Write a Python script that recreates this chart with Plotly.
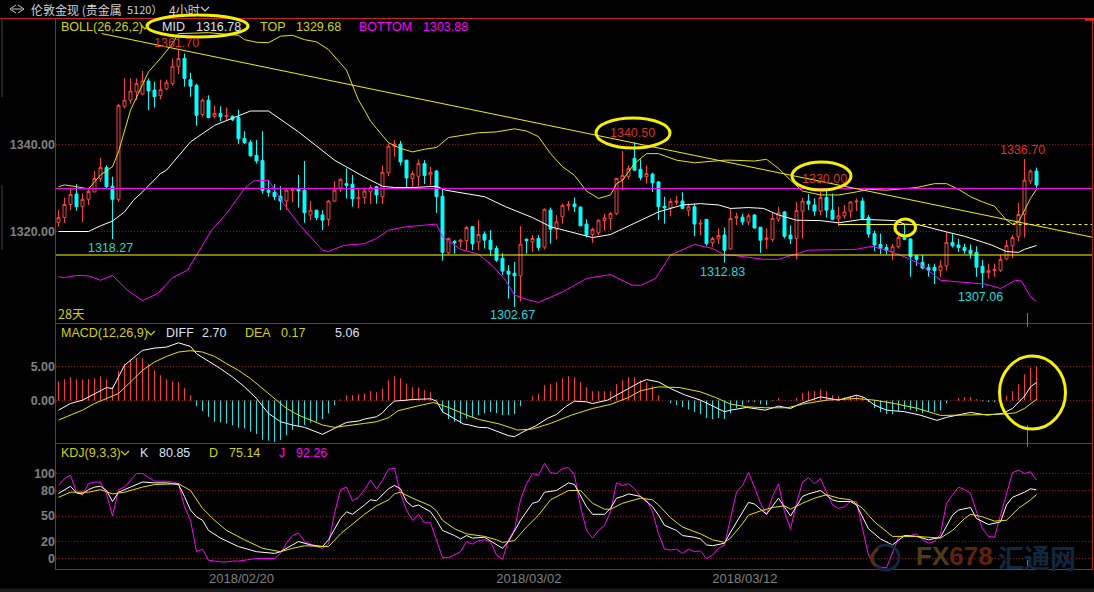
import plotly.graph_objects as go

# ---- candle data (price) ----
OPEN = [1322.1,1323.2,1326.2,1328.6,1325.7,1327.4,1329.1,1332.2,1334.7,1330.4,
1327.4,1348.8,1350.2,1352.1,1351.6,1354.6,1352.5,1351.2,1352.8,1354.0,
1357.9,1359.8,1354.9,1353.6,1346.9,1350.2,1346.4,1347.1,1346.4,1346.5,
1346.2,1341.4,1340.5,1337.5,1336.3,1329.5,1329.0,1328.1,1327.0,1329.4,
1329.7,1329.5,1323.8,1324.9,1323.8,1322.8,1327.0,1330.0,1331.0,1330.9,
1327.5,1327.8,1329.1,1330.3,1328.0,1333.5,1339.5,1340.1,1336.4,1332.2,
1332.7,1335.6,1333.0,1333.9,1328.1,1315.1,1317.7,1317.6,1317.9,1321.1,
1317.6,1319.4,1318.0,1316.1,1313.8,1310.9,1310.4,1309.8,1318.2,1317.6,
1318.4,1316.4,1324.9,1320.5,1323.4,1325.9,1326.3,1325.6,1321.7,1319.3,
1319.7,1322.5,1323.0,1324.1,1332.0,1332.7,1336.8,1334.3,1332.6,1333.2,
1331.4,1325.8,1325.4,1326.7,1327.0,1324.9,1325.7,1321.7,1322.8,1317.4,
1318.3,1319.2,1316.0,1323.1,1323.3,1322.2,1323.8,1321.0,1318.2,1318.2,
1322.8,1324.5,1319.2,1318.4,1324.7,1327.0,1326.1,1324.7,1327.8,1324.9,
1322.9,1323.6,1324.7,1326.8,1327.0,1323.2,1319.5,1317.0,1316.3,1315.3,
1316.5,1318.6,1318.3,1314.4,1312.9,1311.7,1311.7,1311.0,1312.1,1317.5,
1316.9,1316.3,1315.7,1315.2,1312.0,1310.5,1311.0,1311.1,1313.7,1316.7,
1318.8,1323.9,1331.6,1333.9]
HIGH = [1324.9,1327.8,1329.9,1330.9,1328.7,1329.7,1333.9,1337.0,1335.2,1332.6,
1349.3,1355.2,1355.2,1355.2,1356.9,1355.2,1354.4,1354.9,1354.9,1359.8,
1361.7,1360.9,1356.5,1354.0,1350.6,1351.3,1349.0,1348.8,1348.5,1346.7,
1348.0,1343.1,1341.0,1341.0,1343.1,1331.8,1330.9,1330.4,1329.9,1330.1,
1333.0,1336.2,1327.0,1325.0,1324.9,1327.2,1331.6,1332.2,1334.5,1333.0,
1329.7,1329.9,1330.7,1330.5,1335.2,1340.1,1341.0,1340.8,1336.4,1333.9,
1336.6,1336.4,1334.9,1334.1,1329.7,1318.6,1318.0,1318.3,1321.3,1321.2,
1322.6,1320.0,1320.3,1316.7,1315.0,1312.3,1313.0,1321.2,1318.4,1319.2,
1319.2,1325.3,1325.5,1323.8,1326.4,1327.0,1327.8,1325.8,1322.8,1320.9,
1322.8,1324.1,1324.5,1332.4,1338.5,1335.2,1340.5,1336.6,1335.2,1333.5,
1331.6,1328.0,1327.6,1328.2,1329.0,1326.4,1326.4,1322.8,1322.8,1318.8,
1320.7,1320.9,1325.3,1324.3,1324.1,1324.1,1324.0,1321.0,1320.7,1324.3,
1325.7,1324.7,1321.4,1326.8,1327.7,1328.6,1327.6,1329.1,1330.0,1328.7,
1325.7,1326.1,1327.0,1327.6,1327.8,1323.8,1320.2,1319.5,1317.1,1317.1,
1319.2,1321.7,1318.4,1314.6,1314.6,1312.6,1312.6,1313.4,1319.9,1319.4,
1318.3,1317.2,1317.0,1316.6,1313.5,1312.6,1312.6,1314.6,1318.0,1319.2,
1326.6,1336.7,1334.3,1334.7]
LOW = [1321.1,1322.0,1324.9,1324.8,1322.2,1326.1,1329.0,1331.4,1330.0,1318.27,
1326.8,1348.3,1349.4,1350.2,1351.3,1347.9,1348.5,1350.4,1352.5,1353.5,
1356.2,1353.3,1351.0,1344.3,1346.4,1346.0,1346.0,1345.4,1345.4,1345.4,
1340.1,1340.1,1337.2,1335.6,1328.7,1328.0,1327.2,1324.9,1325.0,1326.7,
1325.5,1322.0,1322.6,1322.6,1320.3,1321.3,1326.8,1329.1,1327.6,1325.7,
1325.3,1326.3,1326.3,1326.4,1326.3,1332.7,1337.2,1335.2,1329.7,1329.9,
1330.4,1330.9,1330.7,1324.3,1313.3,1314.8,1314.9,1316.3,1315.7,1315.7,
1315.7,1316.1,1314.4,1313.0,1310.0,1304.6,1302.67,1304.0,1314.9,1315.3,
1315.6,1315.9,1317.2,1318.2,1321.8,1324.8,1324.5,1321.3,1318.6,1317.4,
1319.2,1320.2,1320.3,1323.8,1329.5,1332.0,1334.0,1331.8,1331.0,1329.1,
1322.6,1321.8,1323.5,1326.1,1325.3,1323.5,1318.9,1319.2,1316.7,1316.5,
1317.2,1312.83,1315.8,1321.5,1321.5,1321.5,1320.7,1315.1,1316.0,1317.6,
1322.2,1318.4,1317.1,1313.6,1318.4,1324.9,1323.6,1323.8,1323.2,1322.6,
1321.2,1323.0,1323.2,1324.7,1322.6,1318.6,1315.5,1314.8,1314.8,1313.4,
1316.1,1318.0,1309.6,1312.1,1311.3,1309.6,1307.9,1309.6,1311.0,1316.3,
1315.3,1314.9,1313.8,1309.6,1307.06,1309.2,1309.6,1310.7,1313.4,1313.9,
1317.8,1318.6,1330.9,1330.0]
CLOSE = [1323.2,1326.2,1328.5,1325.7,1327.4,1329.2,1332.2,1334.7,1330.3,1327.4,
1349.0,1350.2,1352.3,1354.0,1354.6,1352.3,1351.0,1352.6,1354.3,1358.0,
1359.8,1355.2,1353.4,1346.7,1350.2,1346.2,1347.1,1346.4,1346.7,1345.7,
1341.3,1340.4,1337.4,1336.2,1329.4,1329.0,1328.0,1327.0,1329.5,1329.9,
1329.3,1324.3,1324.9,1323.2,1322.6,1327.0,1329.5,1332.0,1330.6,1327.5,
1327.8,1329.3,1330.1,1328.4,1333.6,1339.6,1340.1,1336.0,1332.3,1333.3,
1335.6,1332.9,1333.6,1328.0,1315.2,1318.4,1317.4,1318.0,1320.9,1317.2,
1319.3,1318.0,1315.9,1313.4,1310.9,1310.2,1309.8,1317.1,1317.9,1318.4,
1316.3,1325.1,1320.5,1322.2,1326.0,1326.2,1325.7,1321.3,1319.2,1320.5,
1322.6,1323.1,1324.1,1332.2,1332.9,1334.5,1334.1,1332.4,1333.3,1331.2,
1325.7,1325.4,1326.9,1327.0,1325.3,1325.7,1321.7,1321.9,1317.2,1318.4,
1319.1,1315.7,1323.0,1323.4,1322.2,1323.6,1320.8,1318.0,1318.5,1323.0,
1324.3,1318.9,1318.3,1324.8,1327.0,1326.3,1324.7,1327.8,1324.9,1322.8,
1323.6,1324.5,1326.8,1327.0,1323.0,1319.4,1316.9,1316.1,1315.6,1316.5,
1318.6,1318.2,1314.2,1313.6,1311.6,1311.1,1311.0,1312.1,1317.5,1316.7,
1316.3,1315.6,1314.9,1311.8,1310.5,1311.0,1311.3,1313.6,1316.8,1318.6,
1323.9,1331.8,1333.9,1330.7]

# ---- Bollinger bands, read at the bar numbers given ----
TOP_X = [0,1,3,5,6,7,9,10,12,14,15,17,19,20,25,30,31,33,35,37,39,41,43,45,47,48,49,50,51,
52,53,55,57,59,61,63,65,67,70,73,76,78,80,82,84,86,88,90,92,93,94,96,98,100,103,106,109,111,
112,116,118,120,122,124,127,130,133,135,138,141,143,146,148,150,152,154,156,158,159,160,161,162,163]
TOP_Y = [1330.3,1330.7,1330.3,1329.8,1331.4,1333,1334.9,1338.3,1347.9,1354,1356.7,1359.8,1363.2,1365.5,1365.7,1365.1,1364.1,1363.5,1363.4,1364.9,1365.1,1364.1,1363.6,1361.8,1358.6,1357.1,1353.6,1350.2,1347.9,
1345.4,1343.7,1340.4,1339.1,1338.3,1338.9,1339.3,1341.6,1342.1,1342.7,1342.9,1343.6,1343.1,1341.8,1337.9,1334.9,1332.9,1329.3,1327.6,1328.4,1331,1331.8,1335.6,1337.9,1337.9,1336.4,1335.8,1336.2,1336.4,
1336.4,1336.2,1336.6,1334.5,1331.8,1329.3,1328.4,1328.4,1329.1,1329.7,1329.5,1329.9,1330.1,1331,1331,1329.7,1328,1326.8,1325.8,1322.6,1321.7,1322.2,1324.9,1327.6,1329.68]
MID_X = [0,3,5,7,9,11,12.5,14,17,18,22,26,30,32,35,40,46,51,54,56,59,63,64.5,69.5,71,74.5,79,82,85.5,89,92,95.5,100,104,107,110,112,
115,117.5,120,123,127,130,134,139.5,141,143.5,148,151,155.5,158,160,161,163]
MID_Y = [1320,1320,1320,1321.3,1322.4,1324.5,1327.2,1329.1,1333.3,1334.1,1340.6,1344.4,1346.7,1347.7,1347.7,1342.9,1336.4,1332.5,1330.4,1330.1,1330.1,1330.4,1329.5,1328.4,1328,1325.7,1323.2,1321.1,1319.9,1318.6,1319.3,1321.5,1324.5,1326.1,1326.4,1326.1,1325.3,
1325.5,1325.3,1323.8,1322.6,1322.5,1322,1322.8,1322.5,1321.7,1321.5,1319.9,1318.9,1316.9,1315.4,1315.2,1315.9,1316.78]
BOT_X = [0,1,3,5,7,9,11.5,14,16.5,19,21.5,23.5,25.5,28,31,32.5,35,37.5,40,44,45,47.5,51,53,55,58,62,63,64,67,70,72.5,74.5,76,78,80,84,88,92,95.5,97,99.5,102,106,109,111,112,
117.5,120,122.5,125,133,135.5,138,141,143.5,147,151,154.5,157,159.5,160.5,162,163]
BOT_Y = [1309.6,1309.4,1309.9,1309.8,1308.8,1309.9,1306.5,1304.1,1305.7,1309.4,1311.1,1315.7,1320.3,1324.1,1329.9,1331.6,1331.8,1326.4,1321.8,1315.7,1315.4,1316.8,1317.2,1318.4,1320.3,1321.1,1321.6,1321.7,1318.8,1315.9,1314.8,1311.9,1308.8,1305.4,1304.4,1303.7,1306.1,1309.2,1310.1,1307.7,1307.6,1309.2,1314.6,1317,1316.1,1314.6,1314.6,
1313.6,1313.6,1314.6,1315.7,1315.9,1316.6,1315.7,1314.2,1312.6,1308.8,1308.3,1307.9,1306.9,1308.8,1308.6,1305,1303.88]

# ---- user-drawn lines on the price pane ----
LEVEL_MAGENTA = 1329.9
LEVEL_YELLOW = 1314.6
LEVEL_DASH = 1321.6
LEVEL_DASH_BARS = [130, 143]
TREND_BARS = [7.2, 172.25]
TREND_PRICES = [1365.5, 1318.7]

# ---- MACD ----
MACD_HIST = [2.87,3.17,3.47,3.17,3.12,3.17,3.32,3.61,3.17,2.03,4.36,5.5,6.09,6.39,6.29,5.5,4.5,3.76,3.12,2.87,2.72,1.83,0.79,
-0.84,-1.58,-2.43,-3.17,-3.27,-3.42,-3.71,-4.06,-4.16,-4.65,-5,-5.89,-5.99,-6.19,-5.89,-5.15,-4.41,-3.81,-3.66,-3.32,-3.17,-2.77,-1.93,-0.69,
0.15,0.79,0.79,0.94,1.04,1.39,1.24,1.78,3.02,3.61,3.32,2.52,1.98,1.93,1.54,1.24,0.2,
-1.78,-2.77,-3.17,-3.42,-2.72,-2.43,-2.18,-1.93,-1.73,-1.88,-2.18,-2.18,-2.03,-0.84,0,
0.64,0.94,2.28,2.43,2.72,3.32,3.61,3.47,2.72,1.98,1.39,1.39,1.39,1.39,2.43,3.02,3.47,3.47,3.02,2.72,2.13,0.79,0,
-0.4,-0.69,-0.99,-1.34,-1.73,-2.03,-2.62,-2.77,-2.62,-2.77,-1.88,-1.14,-0.74,-0.25,-0.25,-0.54,-0.69,-0.1,0.35,0.05,-0.05,0.35,1.09,1.39,1.39,1.68,1.39,0.79,0.64,0.5,0.64,0.79,0.5,
-0.25,-1.14,-1.73,-2.03,-2.03,-1.58,-1.29,-1.44,-1.58,-1.88,-1.73,-1.73,-1.49,-0.4,0,0.35,0.5,0.5,0.2,-0.15,-0.25,-0.25,0,0.64,1.39,2.43,3.91,4.95,5.06]
DIFF_X = [0,2,4,6,8,9,10,11,13,14,16,18,20,22,23,25,27,29,31,33,35,37,39,41,43,44,46,48,50,51,53,54,55,56,58,59,62,63,64,66,67.5,68.5,70,71.5,73,75,76,77.5,79.5,81.5,83,84.5,86,88,89,91.5,94,97,98,100,102,104.5,107,109,111,112,
114.7,117.8,120,122,123.7,127,130,133,134.3,136,138,141,143.6,146.4,148,152,154.8,157.3,159,161,162,163]
DIFF_Y = [-1.44,-0.45,0.05,1.04,1.93,1.78,3.51,5.25,6.73,7.48,7.82,7.97,8.61,8.07,6.98,5.89,4.75,3.51,2.03,0.3,-1.93,-3.17,-3.66,-4.01,-4.65,-5.05,-4.16,-3.27,-3.07,-2.77,-2.43,-1.83,-0.84,-0.1,0.05,0.15,0.25,-0.1,-1.68,-2.67,-3.51,-3.66,-4.01,-4.06,-4.55,-5.25,-5.4,-4.65,-3.81,-2.67,-2.08,-0.94,-0.1,-0.2,-0.45,0.05,1.29,2.77,3.12,2.77,1.78,0.79,0.05,-0.84,-1.68,-1.44,
-1.04,-1.44,-0.84,-1.19,-0.45,0.54,0.05,0.79,0.45,-0.69,-1.44,-1.68,-2.18,-2.97,-2.52,-1.78,-2.18,-1.93,-1.19,0.64,2.03,2.70]
DEA_X = [0,2,4,6,8,10,12,14,16,18,20,22,24,26,28,30,32,34,36,38,40,42,44,46,48,50,51,53,55,56.6,58,60,62.5,65,68,70,73.5,76.5,79,82,85.5,89,92,95,97,100,103.5,107,109.5,112,
114.7,117.8,121.5,124,128,133,136,139.3,143.2,147,150.6,154.5,157.8,159.5,161,163]
DEA_Y = [-2.92,-2.18,-1.44,-0.45,0.3,1.04,2.77,4.5,5.74,6.58,7.23,7.43,7.23,6.58,5.5,4.5,3.27,1.78,0.3,-1.19,-2.18,-2.92,-3.66,-4.01,-3.81,-3.51,-3.42,-3.17,-2.57,-1.53,-1.19,-0.79,-0.3,-1.04,-2.18,-2.82,-3.51,-4.41,-4.26,-3.42,-2.18,-1.19,-0.59,0.45,1.44,2.03,1.93,1.29,0.45,-0.54,
-0.94,-1.09,-1.09,-0.54,0.05,0.3,0.05,-0.45,-1.19,-2.23,-2.18,-2.13,-2.03,-1.83,-1.19,0.17]

# ---- KDJ ----
K_X = [0,1,2,3,4,5,6,7,8,9,10,12,14,16,18,20,21,22,23,24,25,27,30,33,36,37,39,40,42,44,45,47,48,49,51,52,53,54,55,56,57,58,59,60,62,63,64,66,67,68,69,71,73,74,75,77,79,80,81,83,85,86,88,89,91,92,93,94,95,97,99,100,101,103,104,106,107,108,109,111,112,
114,115,116,118,120,122,124,125,127,129,130,132,133,135,137,139,141,143,145,147,149,150,152,153,155,157,158,159,161,162,163]
K_Y = [76.5,81,85,77,76,81,84,85,80,67,78,84,90,89,89,87,73,57,49,45,33,24,14,8,6,8,16,20,16,14,22,47,55,52,63,69,68,75,82,86,82,67,61,63,55,45,33,27,23,27,24,25,16,12,20,45,65,67,78,80,89,87,61,52,52,59,71,73,76,73,61,51,39,33,27,25,23,16,15,18,31,
55,66,64,52,71,50,73,76,80,69,67,67,63,35,23,16,27,26,22,25,51,57,60,47,40,43,63,72,78,82,80.85]
D_X = [0,2,3,5,7,9,11,14,16,20,22,24,26,28,31,34,37,39,41,45,47,49,51,53,55,56,57,59,61,62,63,64,66,68,71,73,74,76,78,80,82,85,87,89,91,92,94,97,99,100,102,104,107,109,111,112,
114,115,117,119,121,122,124,126,128,130,132,134,136,138,139,143,147,149,151,152,154,156,158,160,162,163]
D_Y = [72,78,78,78,81,76,78,84,87,88,80,59,45,33,22,12,8,12,15,14,29,41,52,62,69,76,78,71,65,62,56,45,35,29,26,22,19,21,37,51,69,80,80,65,58,58,65,71,69,63,48,37,29,22,19,24,
41,51,56,60,62,58,65,71,75,71,69,59,43,31,26,26,24,33,47,52,49,44,45,59,69,75.14]
J_X = list(range(164))
J_Y = [86,94,98,78,75,88,90,90,76,50,81,84,92,100,100,96,91,91,91,90,88,61,45,8,11,-2,-3,-4,-4,-3,-3,-2,-1,0,0,0,0,6,18,27,30,20,17,14,12,17,53,81,84,68,72,81,
92,82,92,105,106,76,57,45,52,42,42,22,1,1,5,8,20,17,21,22,20,4,-1,22,34,69,88,100,98,112,101,100,106,107,98,61,33,24,33,39,55,89,86,88,82,73,69,55,29,11,10,11,6,11,8,9,0,4,12,16,
47,78,86,101,84,65,52,73,88,55,35,65,90,95,88,94,78,63,59,61,67,67,35,4,-6,-10,-11,6,25,27,27,29,22,18,20,29,65,75,84,81,77,55,35,26,25,51,76,101,104,100,102,92.26]

TICK_BARS = [30.5, 78.4, 114.4]
TICK_DATES = ["2018/02/20", "2018/03/02", "2018/03/12"]
PRICE_TICKS = [1340, 1320]
PRICE_LABELS = ["1340.00", "1320.00"]
MACD_TICKS = [5, 0]
MACD_LABELS = ["5.00", "0.00"]
KDJ_TICKS = [100, 80, 50, 20, 0]
KDJ_LABELS = ["100", "80", "50", "20", "0"]

BARS = list(range(len(OPEN)))
X_START, X_END = -0.4167, 172.25

# ---- pixel helpers for overlay furniture (plot area is on whole pixels) ----
L, R, T, B = 56, 1092, 19, 569
def X(px): return (px - L) / (R - L)
def Y(py): return (B - py) / (B - T)

FONT = "Liberation Sans"
OLIVE = "#d4d400"
LIGHT = "#d8e4f0"
RED_TXT = "#dc3028"
CYAN_TXT = "#19dcdc"
MAG = "#ff00ff"
BORDER = "#a82313"

fig = go.Figure()
fig.add_trace(go.Candlestick(
    x=BARS, open=OPEN, high=HIGH, low=LOW, close=CLOSE, yaxis="y",
    increasing=dict(line=dict(color="#ff4040", width=1), fillcolor="#000000"),
    decreasing=dict(line=dict(color="#00ffff", width=1), fillcolor="#00ffff"),
    whiskerwidth=0, hoverinfo="skip", showlegend=False))
def line(x, y, color, axis, width=1):
    fig.add_trace(go.Scatter(x=x, y=y, mode="lines", yaxis=axis, showlegend=False,
                             hoverinfo="skip", line=dict(color=color, width=width)))
line(TOP_X, TOP_Y, "#e6e600", "y")
line(MID_X, MID_Y, "#ffffff", "y")
line(BOT_X, BOT_Y, "#ff00ff", "y")
# one-pixel histogram stems from the zero line
def stems(keep, color):
    xs, ys = [], []
    for b, v in zip(BARS, MACD_HIST):
        if keep(v):
            xs += [b, b, None]
            ys += [0, v, None]
    line(xs, ys, color, "y2")
stems(lambda v: v > 0, "#ff3a3a")
stems(lambda v: v < 0, "#19e6e6")
line(DIFF_X, DIFF_Y, "#ffffff", "y2")
line(DEA_X, DEA_Y, "#e6e600", "y2")
line(J_X, J_Y, "#ff00ff", "y3")
line(K_X, K_Y, "#ffffff", "y3")
line(D_X, D_Y, "#e6e600", "y3")

shapes = []
# bottom strip
shapes.append(dict(type="rect", xref="paper", yref="paper", x0=X(0), x1=X(1094), y0=Y(588.5), y1=Y(592),
                   fillcolor="#1c1c1c", line=dict(width=0), layer="below"))
# user lines
shapes.append(dict(type="line", xref="x", yref="y", x0=X_START, x1=X_END, y0=LEVEL_MAGENTA, y1=LEVEL_MAGENTA,
                   line=dict(color="#ff00ff", width=1.1)))
shapes.append(dict(type="line", xref="x", yref="y", x0=X_START, x1=X_END, y0=LEVEL_YELLOW, y1=LEVEL_YELLOW,
                   line=dict(color="#ffff00", width=1.1)))
shapes.append(dict(type="line", xref="x", yref="y", x0=TREND_BARS[0], x1=TREND_BARS[1], y0=TREND_PRICES[0], y1=TREND_PRICES[1],
                   line=dict(color="#f0f000", width=1)))
shapes.append(dict(type="line", xref="x", yref="y", x0=LEVEL_DASH_BARS[0], x1=LEVEL_DASH_BARS[1], y0=LEVEL_DASH, y1=LEVEL_DASH,
                   line=dict(color="#ffff00", width=1)))
shapes.append(dict(type="line", xref="x", yref="y", x0=LEVEL_DASH_BARS[1], x1=X_END, y0=LEVEL_DASH, y1=LEVEL_DASH,
                   line=dict(color="#ffff00", width=1, dash="3px,3px")))
# panel borders
for top, bot in [(18.5, 323.5), (323.5, 443.5), (443.5, 569.5)]:
    shapes.append(dict(type="rect", xref="paper", yref="paper", x0=X(55.5), x1=X(1092.5), y0=Y(bot), y1=Y(top),
                       line=dict(color=BORDER, width=1)))
shapes.append(dict(type="line", xref="paper", yref="paper", x0=X(0), x1=X(1094), y0=Y(18.5), y1=Y(18.5),
                   line=dict(color="#c8261a", width=1)))
shapes.append(dict(type="line", xref="paper", yref="paper", x0=X(1085), x1=X(1094), y0=Y(19.5), y1=Y(19.5),
                   line=dict(color="#e02a1c", width=2.5)))
# cursor marks
for a, b in [(313, 323), (323, 327), (425, 443), (443, 447), (560, 569)]:
    shapes.append(dict(type="line", xref="paper", yref="paper", x0=X(1027.5), x1=X(1027.5), y0=Y(b), y1=Y(a),
                       line=dict(color="#777777", width=1)))
# left window edge
for a, b in [(18, 97), (185, 250)]:
    shapes.append(dict(type="line", xref="paper", yref="paper", x0=X(2), x1=X(2), y0=Y(b), y1=Y(a),
                       line=dict(color="#444444", width=1)))
# annotation ellipses
for x0, x1, y0, y1, w in [(147, 248, 15, 37, 3), (596, 670, 118, 148, 3), (792, 851, 162, 190, 3),
                          (895, 915.5, 219, 236, 3), (999.5, 1065.5, 356, 429, 3)]:
    shapes.append(dict(type="circle", xref="paper", yref="paper", x0=X(x0), x1=X(x1), y0=Y(y1), y1=Y(y0),
                       line=dict(color="#f5f000", width=w)))
# chevrons
def chevron(x, y, color, s=4):
    shapes.append(dict(type="path", xref="paper", yref="paper",
                       path=f"M {X(x-s)} {Y(y-2)} L {X(x)} {Y(y+2)} L {X(x+s)} {Y(y-2)}",
                       line=dict(color=color, width=1.2)))
chevron(145, 27, OLIVE); chevron(151, 333, OLIVE); chevron(125, 453, OLIVE); chevron(205, 9, "#d0d0d0")
# header icon
shapes.append(dict(type="path", xref="paper", yref="paper",
                   path=f"M {X(16)} {Y(5)} L {X(10)} {Y(9)} L {X(16)} {Y(13)} M {X(18)} {Y(5)} L {X(24)} {Y(9)} L {X(18)} {Y(13)} M {X(12)} {Y(9)} L {X(22)} {Y(9)}",
                   line=dict(color="#c8c8c8", width=1)))
# watermark logo
shapes.append(dict(type="circle", xref="paper", yref="paper", x0=X(873), x1=X(899), y0=Y(570), y1=Y(545),
                   line=dict(color="#12283f", width=3)))
shapes.append(dict(type="path", xref="paper", yref="paper",
                   path=f"M {X(878)} {Y(549)} Q {X(866)} {Y(558)} {X(876)} {Y(566)}",
                   line=dict(color="#5e2a10", width=3)))

ann = []
def text(s, x, y, color, size=12.5, anchor="left", **kw):
    ann.append(dict(text=s, x=X(x), y=Y(y), xref="paper", yref="paper", showarrow=False,
                    xanchor=anchor, yanchor="middle", borderpad=0,
                    font=dict(color=color, size=size, family=kw.pop("family", FONT), **kw)))

# header
text("伦敦金现 (贵金属", 30, 9, "#d0d0d0", 12, family="Noto Sans CJK SC")
text("5120）", 126, 9, "#d0d0d0", 11, family="Noto Sans CJK SC")
text("4小时", 168, 9, "#d0d0d0", 12, family="Noto Sans CJK SC")
# legends
text("BOLL(26,26,2)", 60, 27, OLIVE)
text("MID", 161, 27, LIGHT)
text("1316.78", 195, 27, LIGHT)
text("TOP", 259, 27, OLIVE)
text("1329.68", 295, 27, OLIVE)
text("BOTTOM", 358, 27, MAG)
text("1303.88", 422, 27, MAG)
text("MACD(12,26,9)", 60, 333, OLIVE)
text("DIFF", 165, 333, LIGHT)
text("2.70", 201, 333, LIGHT)
text("DEA", 244, 333, OLIVE)
text("0.17", 280, 333, OLIVE)
text("5.06", 334, 333, LIGHT)
text("KDJ(9,3,3)", 60, 453, OLIVE)
text("K", 139, 453, LIGHT)
text("80.85", 158, 453, LIGHT)
text("D", 208, 453, OLIVE)
text("75.14", 228, 453, OLIVE)
text("J", 278, 453, MAG)
text("92.26", 295, 453, MAG)
# extreme labels
text("1361.70", 176, 43, RED_TXT, anchor="center")
text("1340.50", 632, 133, RED_TXT, anchor="center")
text("1330.00", 824, 178.5, RED_TXT, anchor="center")
text("1336.70", 1022, 150, RED_TXT, anchor="center")
text("1318.27", 110, 248, CYAN_TXT, anchor="center")
text("1302.67", 512, 315, CYAN_TXT, anchor="center")
text("1312.83", 722, 272, CYAN_TXT, anchor="center")
text("1307.06", 980, 297, CYAN_TXT, anchor="center")
text("28天", 57, 313.5, OLIVE, 12.5, family="Noto Sans CJK SC")
# watermark
text('<span style="color:#4f3c14">FX</span><span style="color:#5e2410">678</span>', 915, 556, "#4f3c14", 26,
     family="Liberation Sans", weight=700)
text("汇通网", 997, 556, "#0e2840", 26, family="Noto Sans CJK SC", weight=700)

# panel domains from pane pixel edges
def yaxis(domain, rng, vals, labels):
    return dict(domain=domain, range=rng, tickmode="array", tickvals=vals, ticktext=labels,
                showgrid=True, gridcolor="#8c1410", griddash="1px,2px", gridwidth=1, zeroline=False,
                showline=False, ticks="", fixedrange=True,
                tickfont=dict(color="#808080", size=12.5, family=FONT, weight=700), anchor="x")

fig.update_layout(
    width=1094, height=592, autosize=False,
    margin=dict(l=L, r=1094 - R, t=T, b=592 - B, pad=0),
    paper_bgcolor="#000000", plot_bgcolor="#000000", showlegend=False,
    xaxis=dict(range=[X_START, X_END], tickmode="array", tickvals=TICK_BARS, ticktext=TICK_DATES, anchor="y3",
               showgrid=False, zeroline=False, showline=False, ticks="", rangeslider=dict(visible=False),
               tickfont=dict(color="#808080", size=13, family=FONT), fixedrange=True),
    yaxis=yaxis([Y(323.5), 1], [1298.85, 1368.85], PRICE_TICKS, PRICE_LABELS),
    yaxis2=yaxis([Y(443.5), Y(323.5)], [-6.42, 11.49], MACD_TICKS, MACD_LABELS),
    yaxis3=yaxis([0, Y(443.5)], [-12.35, 135.3], KDJ_TICKS, KDJ_LABELS),
    shapes=shapes, annotations=ann,
)
fig.write_html("out.html", config=dict(displayModeBar=False),
               post_script="document.body.style.margin='0';document.body.style.background='#000';document.documentElement.style.overflow='hidden';")
